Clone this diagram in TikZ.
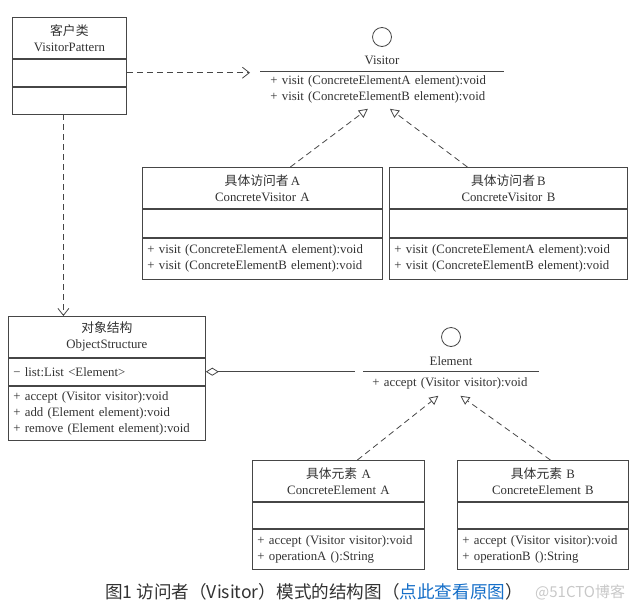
\documentclass[tikz,border=0pt]{standalone}
\usepackage{fontspec}
\setmainfont{Liberation Serif}
\newfontfamily\cjk{Noto Sans CJK SC}
\usetikzlibrary{positioning,arrows.meta}
\definecolor{linegray}{RGB}{70,70,70}
\definecolor{textgray}{RGB}{50,50,50}
\definecolor{linkblue}{RGB}{20,110,200}
\definecolor{marklight}{RGB}{200,200,200}

\begin{document}
\begin{tikzpicture}[x=1pt, y=-1pt,
    box/.style={rectangle, draw=linegray, line width=0.8pt, text=textgray, inner xsep=5pt, inner ysep=0pt, font=\fontsize{12.8}{16}\selectfont},
    title/.style={box, align=center, minimum height=41pt},
    part/.style={box, align=left},
    iface/.style={circle, draw=linegray, line width=0.8pt, minimum size=19pt, inner sep=0pt},
    dep/.style={draw=linegray, line width=0.8pt, dash pattern=on 6pt off 4pt, -{Straight Barb[length=7pt,width=11pt]}},
    real/.style={draw=linegray, line width=0.8pt, dash pattern=on 6pt off 4pt, -{Triangle[open,length=9pt,width=9pt]}},
    agg/.style={draw=linegray, line width=0.8pt, {Diamond[open,length=13pt,width=8pt]}-}]
    \useasboundingbox (0,0) rectangle (644,605);

    % client
    \node (clientName) [title, text width=104pt, anchor=north west] at (12,17) {{\cjk 客户类}\\VisitorPattern};
    \node (clientAttr) [part, text width=104pt, minimum height=27pt, below=0pt of clientName] {};
    \node (clientOps) [part, text width=104pt, minimum height=27pt, below=0pt of clientAttr] {};

    % interface Visitor
    \node (visitorIcon) [iface] at (382,37) {};
    \node (visitorLabel) [box, draw=none, inner sep=0pt] at (382,60) {Visitor};
    \node (visitor) [part, draw=none, inner xsep=10pt, text width=223pt, minimum height=37pt, anchor=north west] at (260,71) {+ visit (ConcreteElementA element):void\\+ visit (ConcreteElementB element):void};
    \draw [linegray, line width=0.8pt] (visitor.north west) -- (visitor.north east);

    % concrete visitors
    \node (visitorAName) [title, text width=230pt, anchor=north west] at (142,167) {{\cjk 具体访问者}\,A\\ConcreteVisitor\ A};
    \node (visitorAAttr) [part, text width=230pt, minimum height=28pt, below=0pt of visitorAName] {};
    \node (visitorAOps) [part, text width=230pt, minimum height=41pt, below=0pt of visitorAAttr] {+ visit (ConcreteElementA element):void\\+ visit (ConcreteElementB element):void};
    \node (visitorBName) [title, text width=228pt, anchor=north west] at (389,167) {{\cjk 具体访问者}\,B\\ConcreteVisitor\ B};
    \node (visitorBAttr) [part, text width=228pt, minimum height=28pt, below=0pt of visitorBName] {};
    \node (visitorBOps) [part, text width=228pt, minimum height=41pt, below=0pt of visitorBAttr] {+ visit (ConcreteElementA element):void\\+ visit (ConcreteElementB element):void};

    % object structure
    \node (objName) [title, text width=187pt, anchor=north west] at (8,316) {{\cjk 对象结构}\\ObjectStructure};
    \node (objAttr) [part, text width=187pt, minimum height=27pt, below=0pt of objName] {− list:List <Element>};
    \node (objOps) [part, text width=187pt, minimum height=54pt, below=0pt of objAttr] {+ accept (Visitor visitor):void\\+ add (Element element):void\\+ remove (Element element):void};

    % interface Element
    \node (elementIcon) [iface] at (451,337) {};
    \node (elementLabel) [box, draw=none, inner sep=0pt] at (451,361) {Element};
    \node (element) [part, draw=none, inner xsep=9pt, text width=157pt, minimum height=24pt, anchor=north west] at (363,371) {+ accept (Visitor visitor):void};
    \draw [linegray, line width=0.8pt] (element.north west) -- (element.north east);

    % concrete elements
    \node (elemAName) [title, text width=162pt, anchor=north west] at (252,460) {{\cjk 具体元素}\ A\\ConcreteElement\ A};
    \node (elemAAttr) [part, text width=162pt, minimum height=26pt, below=0pt of elemAName] {};
    \node (elemAOps) [part, text width=162pt, minimum height=40pt, below=0pt of elemAAttr] {+ accept (Visitor visitor):void\\+ operationA ():String};
    \node (elemBName) [title, text width=161pt, anchor=north west] at (457,460) {{\cjk 具体元素}\ B\\ConcreteElement\ B};
    \node (elemBAttr) [part, text width=161pt, minimum height=26pt, below=0pt of elemBName] {};
    \node (elemBOps) [part, text width=161pt, minimum height=40pt, below=0pt of elemBAttr] {+ accept (Visitor visitor):void\\+ operationB ():String};

    % connectors
    \draw [dep] (clientAttr.east) -- ([xshift=-10pt]visitor.north west |- clientAttr.east);
    \draw [dep] ([xshift=-6pt]clientOps.south) -- ([xshift=-6pt]clientOps.south |- objName.north);
    \draw [real] ([xshift=28pt]visitorAName.north) -- ([xshift=-14pt]visitor.south);
    \draw [real] ([xshift=-41pt]visitorBName.north) -- ([xshift=8pt]visitor.south);
    \draw [agg] (objAttr.east) -- ([xshift=-8pt]element.north west |- objAttr.east);
    \draw [real] ([xshift=19pt]elemAName.north) -- ([xshift=-12.5pt]element.south);
    \draw [real] ([xshift=7.5pt]elemBName.north) -- ([xshift=9.5pt]element.south);

    % caption
    \node (caption) [font=\cjk\fontsize{17.6}{20}\selectfont, text=textgray] at (314,592) {图1 访问者（Visitor）模式的结构图（\textcolor{linkblue}{点此查看原图}）};
    \node (watermark) [font=\cjk\fontsize{15}{18}\selectfont, text=marklight, anchor=west, inner sep=0pt] at (535,592) {@51CTO博客};
\end{tikzpicture}
\end{document}
